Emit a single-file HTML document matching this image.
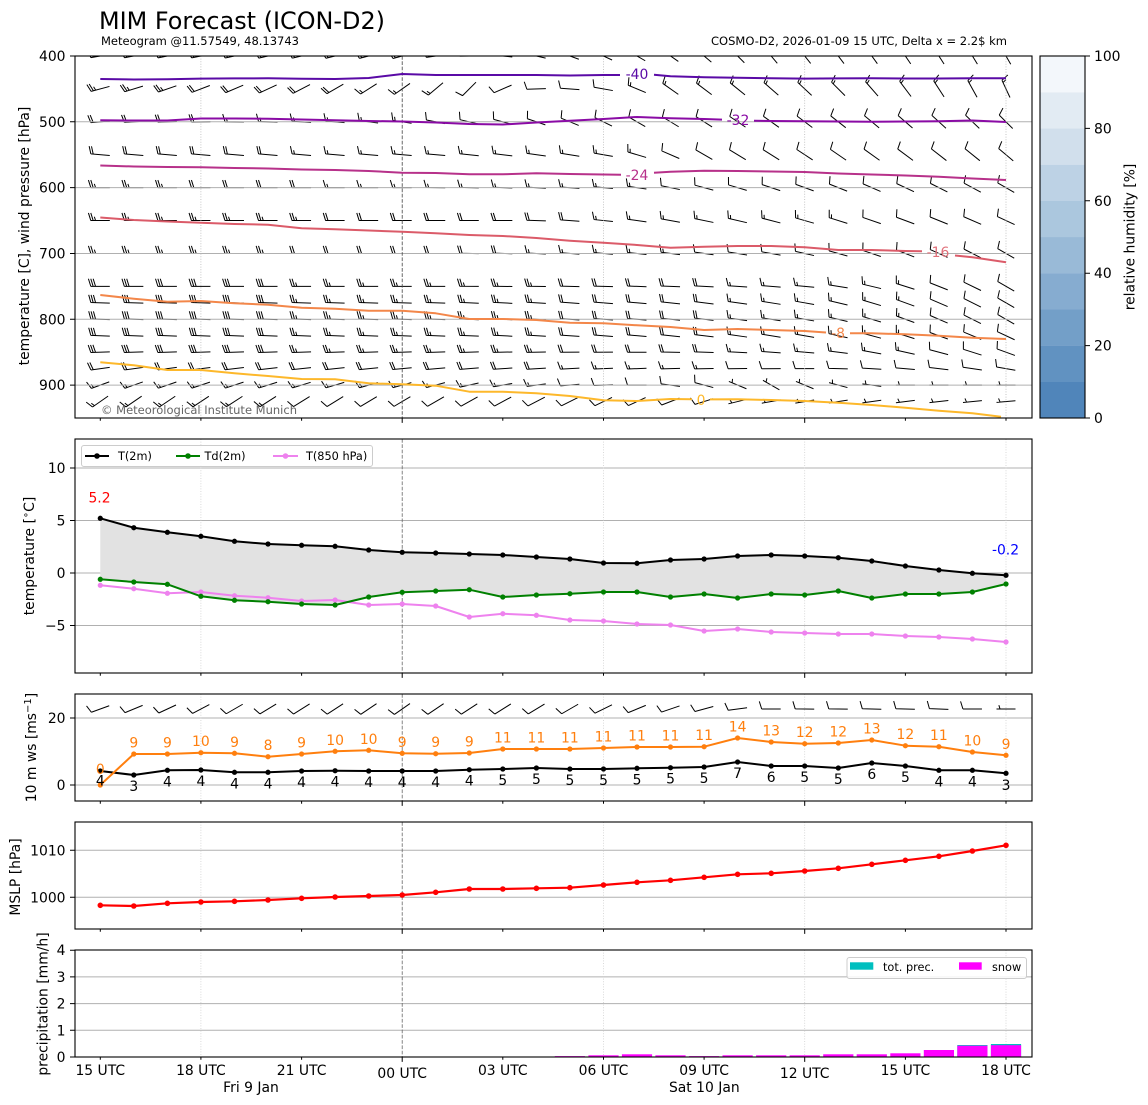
<!DOCTYPE html>
<html><head><meta charset="utf-8"><title>MIM Forecast (ICON-D2)</title>
<style>
html,body{margin:0;padding:0;background:#fff;width:1148px;height:1105px;overflow:hidden}
svg{display:block;font-family:"DejaVu Sans","Liberation Sans",sans-serif}
</style></head><body>
<svg id="fig" width="1148" height="1105" viewBox="0 0 1148 1105" xmlns="http://www.w3.org/2000/svg">
<defs>
<clipPath id="c1"><rect x="75" y="56" width="957" height="362"/></clipPath>
<clipPath id="c3"><rect x="75" y="694" width="957" height="107"/></clipPath>
<marker id="mk" viewBox="-4 -4 8 8" markerWidth="7" markerHeight="7" markerUnits="userSpaceOnUse"><circle r="3" fill="#000"/></marker>
<marker id="mg" viewBox="-4 -4 8 8" markerWidth="7" markerHeight="7" markerUnits="userSpaceOnUse"><circle r="3" fill="#008000"/></marker>
<marker id="mv" viewBox="-4 -4 8 8" markerWidth="7" markerHeight="7" markerUnits="userSpaceOnUse"><circle r="3" fill="#ee82ee"/></marker>
<marker id="mo" viewBox="-4 -4 8 8" markerWidth="7" markerHeight="7" markerUnits="userSpaceOnUse"><circle r="3" fill="#ff7f0e"/></marker>
<marker id="mr" viewBox="-4 -4 8 8" markerWidth="7" markerHeight="7" markerUnits="userSpaceOnUse"><circle r="3.2" fill="#ff0000"/></marker>
<path id="xt" d="M100.3,0v2.8M200.9,0v2.8M301.6,0v2.8M402.2,0v4.9M502.8,0v2.8M603.5,0v2.8M704.1,0v2.8M804.7,0v4.9M905.4,0v2.8M1006,0v2.8" stroke="#000" stroke-width="1"/>
</defs>
<rect x="0" y="0" width="1148" height="1105" fill="#fff"/>

<!-- Titles -->
<text x="99" y="29" font-size="23.8" textLength="286" lengthAdjust="spacingAndGlyphs">MIM Forecast (ICON-D2)</text>
<text x="101" y="45" font-size="11.5" textLength="198" lengthAdjust="spacingAndGlyphs">Meteogram @11.57549, 48.13743</text>
<text x="1007" y="45" font-size="11.5" text-anchor="end" textLength="296" lengthAdjust="spacingAndGlyphs">COSMO-D2, 2026-01-09 15 UTC, Delta x = 2.2$ km</text>

<!-- ================= PANEL 1 ================= -->
<g id="p1">
<path id="barbs1" d="" stroke="#000" stroke-width="1" fill="none" clip-path="url(#c1)"/>
<g stroke="#b0b0b0" stroke-width="1">
<line x1="75" x2="1032" y1="121.8" y2="121.8"/><line x1="75" x2="1032" y1="187.6" y2="187.6"/>
<line x1="75" x2="1032" y1="253.5" y2="253.5"/><line x1="75" x2="1032" y1="319.3" y2="319.3"/>
<line x1="75" x2="1032" y1="385.1" y2="385.1"/>
</g>
<g stroke="#b8b8b8" stroke-width="0.8" stroke-dasharray="1,1.6">
<line x1="200.9" x2="200.9" y1="56" y2="418"/><line x1="603.5" x2="603.5" y1="56" y2="418"/>
<line x1="804.7" x2="804.7" y1="56" y2="418"/><line x1="1006" x2="1006" y1="56" y2="418"/>
</g>
<line x1="402.2" x2="402.2" y1="56" y2="418" stroke="#444" stroke-width="0.8" stroke-dasharray="3.7,1.6"/>
<g fill="none" stroke-width="2" stroke-linejoin="round" clip-path="url(#c1)">
<polyline stroke="#5a0aa6" points="100.3,79 133.8,79.5 167.4,79.2 200.9,78.6 234.5,78.4 268,78.3 301.6,78.8 335.1,79 368.7,78 402.2,74 435.7,75 469.3,75 502.8,75 536.4,75 569.9,75.5 603.5,75 620,75"/>
<polyline stroke="#5a0aa6" points="654,74.8 670.5,76.3 704.1,77.3 737.6,77.8 771.2,78.2 804.7,78.6 838.3,78.4 871.8,78.2 905.4,78.5 938.9,78.5 972.4,78.2 1006,78.2"/>
<polyline stroke="#8a0ba5" points="100.3,120.3 133.8,120.5 167.4,120.5 200.9,118.5 234.5,118.5 268,118.7 301.6,119.5 335.1,120.3 368.7,121 402.2,121.5 435.7,122.5 469.3,124 502.8,124.5 536.4,122.5 569.9,120.8 603.5,119 637,117 670.5,118.3 704.1,119 722,119.6"/>
<polyline stroke="#8a0ba5" points="754,120.8 771.2,121 804.7,121.3 838.3,121.5 871.8,121.8 905.4,121.5 938.9,121.2 972.4,120.5 1006,122"/>
<polyline stroke="#b7318a" points="100.3,165.5 133.8,166.5 167.4,167 200.9,167.3 234.5,168 268,168.5 301.6,169.5 335.1,170 368.7,171 402.2,172.7 435.7,173 469.3,174.3 502.8,174.3 536.4,173.3 569.9,174 603.5,174.5 621,174.8"/>
<polyline stroke="#b7318a" points="654,172.8 670.5,171.8 704.1,170.7 737.6,171 771.2,171.5 804.7,172 838.3,173.5 871.8,174.5 905.4,175.5 938.9,176.7 972.4,178.5 1006,180"/>
<polyline stroke="#db5b69" points="100.3,217.5 133.8,220 167.4,221.5 200.9,222.7 234.5,224 268,224.7 301.6,228.3 335.1,229.3 368.7,230.5 402.2,231.7 435.7,233.3 469.3,235 502.8,236 536.4,238 569.9,240.7 603.5,242.7 637,245 670.5,247.7 704.1,246.7 737.6,246 771.2,246 804.7,247.3 838.3,250 871.8,250 905.4,251 922,251.3"/>
<polyline stroke="#db5b69" points="955,255.5 972.4,257.3 1006,262.3"/>
<polyline stroke="#f3874a" points="100.3,295 133.8,298.7 167.4,301.7 200.9,301 234.5,303.3 268,304.7 301.6,307.7 335.1,308.7 368.7,310.7 402.2,310.7 435.7,313.3 469.3,319 502.8,319 536.4,320 569.9,322.7 603.5,323.3 637,325.3 670.5,327 704.1,330 737.6,329 771.2,330 804.7,331 826,332.5"/>
<polyline stroke="#f3874a" points="850,333.2 871.8,333.3 905.4,334.3 938.9,335.7 972.4,337.7 1006,339"/>
<polyline stroke="#fdb82b" points="100.3,362.3 133.8,365.3 167.4,370 200.9,370 234.5,373.3 268,376 301.6,379 335.1,379.3 368.7,383.3 402.2,384.3 435.7,385.7 469.3,391.7 502.8,391.7 536.4,393.3 569.9,396 603.5,400.3 637,401 670.5,399 692,399.3"/>
<polyline stroke="#fdb82b" points="710,399.4 737.6,399.3 771.2,400 804.7,401 838.3,402.7 871.8,405 905.4,407.7 938.9,410.7 972.4,413.3 1001,416.7"/>
</g>
<g font-size="13.9" text-anchor="middle">
<text x="637" y="79" fill="#5a0aa6">-40</text>
<text x="738" y="125" fill="#8a0ba5">-32</text>
<text x="637" y="180" fill="#b7318a">-24</text>
<text x="938" y="257" fill="#e0707a">-16</text>
<text x="838" y="338" fill="#f3874a">-8</text>
<text x="701" y="405" fill="#fdb82b">0</text>
</g>
<text x="101" y="414" font-size="11.5" fill="#666" textLength="196" lengthAdjust="spacingAndGlyphs">© Meteorological Institute Munich</text>
<rect x="75" y="56" width="957" height="362" fill="none" stroke="#000" stroke-width="1.1"/>
<path d="M70,56h5M70,121.8h5M70,187.6h5M70,253.5h5M70,319.3h5M70,385.1h5" stroke="#000"/>
<g font-size="13.9" text-anchor="end">
<text x="65.5" y="61">400</text><text x="65.5" y="126.8">500</text><text x="65.5" y="192.6">600</text>
<text x="65.5" y="258.5">700</text><text x="65.5" y="324.3">800</text><text x="65.5" y="390.1">900</text>
</g>
<use href="#xt" transform="translate(0,418)"/>
<text transform="translate(29,236) rotate(-90)" font-size="13.9" text-anchor="middle">temperature [C], wind pressure [hPa]</text>
</g>

<!-- colorbar -->
<g>
<rect x="1040" y="381.8" width="45" height="36.2" fill="#5085ba"/>
<rect x="1040" y="345.6" width="45" height="36.4" fill="#6192c1"/>
<rect x="1040" y="309.4" width="45" height="36.4" fill="#739fc8"/>
<rect x="1040" y="273.2" width="45" height="36.4" fill="#86acd0"/>
<rect x="1040" y="237" width="45" height="36.4" fill="#99bad7"/>
<rect x="1040" y="200.8" width="45" height="36.4" fill="#abc7de"/>
<rect x="1040" y="164.6" width="45" height="36.4" fill="#bdd2e5"/>
<rect x="1040" y="128.4" width="45" height="36.4" fill="#d1dfec"/>
<rect x="1040" y="92.2" width="45" height="36.4" fill="#e2ebf3"/>
<rect x="1040" y="56" width="45" height="36.4" fill="#f3f7fb"/>
<rect x="1040" y="56" width="45" height="362" fill="none" stroke="#000" stroke-width="1.1"/>
<path d="M1085,56h5M1085,128.4h5M1085,200.8h5M1085,273.2h5M1085,345.6h5M1085,418h5" stroke="#000"/>
<g font-size="13.9">
<text x="1094" y="61">100</text><text x="1094" y="133.4">80</text><text x="1094" y="205.8">60</text>
<text x="1094" y="278.2">40</text><text x="1094" y="350.6">20</text><text x="1094" y="423">0</text>
</g>
<text transform="translate(1134.5,237) rotate(-90)" font-size="13.9" text-anchor="middle">relative humidity [%]</text>
</g>

<!-- ================= PANEL 2 ================= -->
<g id="p2">
<g stroke="#b0b0b0" stroke-width="1">
<line x1="75" x2="1032" y1="468" y2="468"/><line x1="75" x2="1032" y1="520.5" y2="520.5"/>
<line x1="75" x2="1032" y1="573" y2="573"/><line x1="75" x2="1032" y1="625.5" y2="625.5"/>
</g>
<g stroke="#d0d0d0" stroke-width="0.8" stroke-dasharray="1,1.6">
<line x1="200.9" x2="200.9" y1="439" y2="673"/><line x1="603.5" x2="603.5" y1="439" y2="673"/>
<line x1="804.7" x2="804.7" y1="439" y2="673"/><line x1="1006" x2="1006" y1="439" y2="673"/>
</g>
<line x1="402.2" x2="402.2" y1="439" y2="673" stroke="#666" stroke-width="0.8" stroke-dasharray="3.7,1.6"/>
<polygon fill="#e2e2e2" points="100.3,518.3 133.8,527.7 167.4,532.3 200.9,536.3 234.5,541.3 268,544 301.6,545.3 335.1,546.3 368.7,550 402.2,552.3 435.7,553 469.3,554 502.8,555 536.4,557 569.9,559 603.5,563 637,563.3 670.5,560 704.1,559 737.6,556 771.2,555 804.7,556 838.3,557.7 871.8,561 905.4,566 938.9,570 972.4,573.3 1006,575.3 1006,584 972.4,592 938.9,594 905.4,594 871.8,598 838.3,591 804.7,595 771.2,594 737.6,598 704.1,594 670.5,597 637,592 603.5,592 569.9,593.7 536.4,595 502.8,597 469.3,589.7 435.7,591 402.2,592.3 368.7,597 335.1,605 301.6,604 268,601.7 234.5,600.3 200.9,596.3 167.4,584.3 133.8,582 100.3,579.3"/>
<g fill="none" stroke-width="2" stroke-linejoin="round">
<polyline stroke="#ee82ee" marker-start="url(#mv)" marker-mid="url(#mv)" marker-end="url(#mv)" points="100.3,585.3 133.8,588.7 167.4,593.3 200.9,592 234.5,595.7 268,597.7 301.6,601 335.1,600 368.7,605 402.2,604 435.7,606 469.3,617 502.8,613.7 536.4,615.3 569.9,620 603.5,621 637,624 670.5,625 704.1,631 737.6,629 771.2,632 804.7,633 838.3,634 871.8,634 905.4,636 938.9,637 972.4,639 1006,642"/>
<polyline stroke="#008000" marker-start="url(#mg)" marker-mid="url(#mg)" marker-end="url(#mg)" points="100.3,579.3 133.8,582 167.4,584.3 200.9,596.3 234.5,600.3 268,601.7 301.6,604 335.1,605 368.7,597 402.2,592.3 435.7,591 469.3,589.7 502.8,597 536.4,595 569.9,593.7 603.5,592 637,592 670.5,597 704.1,594 737.6,598 771.2,594 804.7,595 838.3,591 871.8,598 905.4,594 938.9,594 972.4,592 1006,584"/>
<polyline stroke="#000" marker-start="url(#mk)" marker-mid="url(#mk)" marker-end="url(#mk)" points="100.3,518.3 133.8,527.7 167.4,532.3 200.9,536.3 234.5,541.3 268,544 301.6,545.3 335.1,546.3 368.7,550 402.2,552.3 435.7,553 469.3,554 502.8,555 536.4,557 569.9,559 603.5,563 637,563.3 670.5,560 704.1,559 737.6,556 771.2,555 804.7,556 838.3,557.7 871.8,561 905.4,566 938.9,570 972.4,573.3 1006,575.3"/>
</g>
<text x="99.5" y="502.5" font-size="13.9" fill="#ff0000" text-anchor="middle">5.2</text>
<text x="1005.5" y="554.3" font-size="13.9" fill="#0000ff" text-anchor="middle">-0.2</text>
<!-- legend -->
<rect x="81.5" y="445.5" width="291" height="21" rx="2.5" fill="#fff" fill-opacity="0.85" stroke="#cccccc" stroke-width="1"/>
<g stroke-width="2">
<line x1="85" x2="109" y1="456" y2="456" stroke="#000"/><circle cx="97" cy="456" r="2.8" fill="#000"/>
<line x1="176" x2="200" y1="456" y2="456" stroke="#008000"/><circle cx="188" cy="456" r="2.8" fill="#008000"/>
<line x1="273" x2="298" y1="456" y2="456" stroke="#ee82ee"/><circle cx="285.5" cy="456" r="2.8" fill="#ee82ee"/>
</g>
<g font-size="11.3">
<text x="118" y="460">T(2m)</text><text x="204.5" y="460">Td(2m)</text><text x="306" y="460">T(850 hPa)</text>
</g>
<rect x="75" y="439" width="957" height="234" fill="none" stroke="#000" stroke-width="1.1"/>
<path d="M70,468h5M70,520.5h5M70,573h5M70,625.5h5" stroke="#000"/>
<g font-size="13.9" text-anchor="end">
<text x="65.5" y="473">10</text><text x="65.5" y="525.5">5</text><text x="65.5" y="578">0</text><text x="65.5" y="630.5">−5</text>
</g>
<use href="#xt" transform="translate(0,673)"/>
<text transform="translate(34,556) rotate(-90)" font-size="13.9" text-anchor="middle">temperature [<tspan font-size="10" baseline-shift="super">∘</tspan>C]</text>
</g>

<!-- ================= PANEL 3 ================= -->
<g id="p3">
<g stroke="#b0b0b0" stroke-width="1">
<line x1="75" x2="1032" y1="718" y2="718"/><line x1="75" x2="1032" y1="785" y2="785"/>
</g>
<g stroke="#d0d0d0" stroke-width="0.8" stroke-dasharray="1,1.6">
<line x1="200.9" x2="200.9" y1="694" y2="801"/><line x1="603.5" x2="603.5" y1="694" y2="801"/>
<line x1="804.7" x2="804.7" y1="694" y2="801"/><line x1="1006" x2="1006" y1="694" y2="801"/>
</g>
<line x1="402.2" x2="402.2" y1="694" y2="801" stroke="#666" stroke-width="0.8" stroke-dasharray="3.7,1.6"/>
<path id="barbs3" d="" stroke="#000" stroke-width="1" fill="none" clip-path="url(#c3)"/>
<g fill="none" stroke-width="2" stroke-linejoin="round">
<polyline stroke="#000" marker-start="url(#mk)" marker-mid="url(#mk)" marker-end="url(#mk)" points="100.3,771 133.8,775 167.4,770.3 200.9,770 234.5,772.3 268,772.3 301.6,771 335.1,770.7 368.7,771 402.2,771 435.7,771 469.3,769.7 502.8,769 536.4,768 569.9,769 603.5,769 637,768.3 670.5,767.7 704.1,767 737.6,762 771.2,766 804.7,766 838.3,768 871.8,763 905.4,766 938.9,770.3 972.4,770.3 1006,773.3"/>
<polyline stroke="#ff7f0e" marker-start="url(#mo)" marker-mid="url(#mo)" marker-end="url(#mo)" points="100.3,785 133.8,754 167.4,754 200.9,752.7 234.5,753.3 268,756.7 301.6,754 335.1,751.3 368.7,750.3 402.2,753.3 435.7,753.7 469.3,753 502.8,749 536.4,749 569.9,749 603.5,748 637,747 670.5,747 704.1,746.7 737.6,738 771.2,742 804.7,743.7 838.3,743 871.8,740 905.4,745.7 938.9,746.7 972.4,752 1006,755.3"/>
</g>
<g font-size="13.9" text-anchor="middle" fill="#ff7f0e">
<text x="100.3" y="774">0</text>
<text x="133.8" y="747.5">9</text><text x="167.4" y="747.5">9</text><text x="200.9" y="746.2">10</text>
<text x="234.5" y="746.8">9</text><text x="268" y="750.2">8</text><text x="301.6" y="747.5">9</text>
<text x="335.1" y="744.8">10</text><text x="368.7" y="743.8">10</text><text x="402.2" y="746.8">9</text>
<text x="435.7" y="747.2">9</text><text x="469.3" y="746.5">9</text><text x="502.8" y="742.5">11</text>
<text x="536.4" y="742.5">11</text><text x="569.9" y="742.5">11</text><text x="603.5" y="741.5">11</text>
<text x="637" y="740.5">11</text><text x="670.5" y="740.5">11</text><text x="704.1" y="740.2">11</text>
<text x="737.6" y="731.5">14</text><text x="771.2" y="735.5">13</text><text x="804.7" y="737.2">12</text>
<text x="838.3" y="736.5">12</text><text x="871.8" y="733.5">13</text><text x="905.4" y="739.2">12</text>
<text x="938.9" y="740.2">11</text><text x="972.4" y="745.5">10</text><text x="1006" y="748.8">9</text>
</g>
<g font-size="13.9" text-anchor="middle" fill="#000">
<text x="100.3" y="785.5">4</text><text x="133.8" y="791">3</text><text x="167.4" y="786.3">4</text>
<text x="200.9" y="786">4</text><text x="234.5" y="788.3">4</text><text x="268" y="788.3">4</text>
<text x="301.6" y="787">4</text><text x="335.1" y="786.7">4</text><text x="368.7" y="787">4</text>
<text x="402.2" y="787">4</text><text x="435.7" y="787">4</text><text x="469.3" y="785.7">4</text>
<text x="502.8" y="785">5</text><text x="536.4" y="784">5</text><text x="569.9" y="785">5</text>
<text x="603.5" y="785">5</text><text x="637" y="784.3">5</text><text x="670.5" y="783.7">5</text>
<text x="704.1" y="783">5</text><text x="737.6" y="778">7</text><text x="771.2" y="782">6</text>
<text x="804.7" y="782">5</text><text x="838.3" y="784">5</text><text x="871.8" y="779">6</text>
<text x="905.4" y="782">5</text><text x="938.9" y="786.3">4</text><text x="972.4" y="786.3">4</text>
<text x="1006" y="790">3</text>
</g>
<rect x="75" y="694" width="957" height="107" fill="none" stroke="#000" stroke-width="1.1"/>
<path d="M70,718h5M70,785h5" stroke="#000"/>
<g font-size="13.9" text-anchor="end"><text x="65.5" y="723">20</text><text x="65.5" y="790">0</text></g>
<use href="#xt" transform="translate(0,801)"/>
<text transform="translate(36,747.5) rotate(-90)" font-size="13.9" text-anchor="middle">10 m ws [ms<tspan font-size="10" baseline-shift="super">−1</tspan>]</text>
</g>

<!-- ================= PANEL 4 ================= -->
<g id="p4">
<g stroke="#b0b0b0" stroke-width="1">
<line x1="75" x2="1032" y1="850.3" y2="850.3"/><line x1="75" x2="1032" y1="897.3" y2="897.3"/>
</g>
<g stroke="#d0d0d0" stroke-width="0.8" stroke-dasharray="1,1.6">
<line x1="200.9" x2="200.9" y1="822" y2="929"/><line x1="603.5" x2="603.5" y1="822" y2="929"/>
<line x1="804.7" x2="804.7" y1="822" y2="929"/><line x1="1006" x2="1006" y1="822" y2="929"/>
</g>
<line x1="402.2" x2="402.2" y1="822" y2="929" stroke="#666" stroke-width="0.8" stroke-dasharray="3.7,1.6"/>
<polyline fill="none" stroke="#ff0000" stroke-width="2.2" stroke-linejoin="round" marker-start="url(#mr)" marker-mid="url(#mr)" marker-end="url(#mr)" points="100.3,905.3 133.8,906 167.4,903.3 200.9,902 234.5,901.3 268,900 301.6,898.3 335.1,897 368.7,896 402.2,895 435.7,892.3 469.3,889 502.8,889 536.4,888.3 569.9,887.7 603.5,885 637,882.3 670.5,880.3 704.1,877.3 737.6,874.3 771.2,873.3 804.7,871 838.3,868.3 871.8,864.3 905.4,860.3 938.9,856.3 972.4,851 1006,845.3"/>
<rect x="75" y="822" width="957" height="107" fill="none" stroke="#000" stroke-width="1.1"/>
<path d="M70,850.3h5M70,897.3h5" stroke="#000"/>
<g font-size="13.9" text-anchor="end"><text x="65.5" y="855.3">1010</text><text x="65.5" y="902.3">1000</text></g>
<use href="#xt" transform="translate(0,929)"/>
<text transform="translate(20,877) rotate(-90)" font-size="13.9" text-anchor="middle">MSLP [hPa]</text>
</g>

<!-- ================= PANEL 5 ================= -->
<g id="p5">
<g stroke="#b0b0b0" stroke-width="1">
<line x1="75" x2="1032" y1="976.9" y2="976.9"/><line x1="75" x2="1032" y1="1003.6" y2="1003.6"/>
<line x1="75" x2="1032" y1="1030.3" y2="1030.3"/>
</g>
<g stroke="#d0d0d0" stroke-width="0.8" stroke-dasharray="1,1.6">
<line x1="200.9" x2="200.9" y1="950" y2="1057"/><line x1="603.5" x2="603.5" y1="950" y2="1057"/>
<line x1="804.7" x2="804.7" y1="950" y2="1057"/><line x1="1006" x2="1006" y1="950" y2="1057"/>
</g>
<line x1="402.2" x2="402.2" y1="950" y2="1057" stroke="#666" stroke-width="0.8" stroke-dasharray="3.7,1.6"/>
<g fill="#00bfbf">
<rect x="957.3" y="1045" width="30.2" height="12"/>
<rect x="990.9" y="1044" width="30.2" height="13"/>
</g>
<g fill="#ff00ff">
<rect x="554.8" y="1056.1" width="30.2" height="0.9"/>
<rect x="588.4" y="1055.3" width="30.2" height="1.7"/>
<rect x="621.9" y="1054.3" width="30.2" height="2.7"/>
<rect x="655.4" y="1055.3" width="30.2" height="1.7"/>
<rect x="689.0" y="1056.1" width="30.2" height="0.9"/>
<rect x="722.5" y="1055.3" width="30.2" height="1.7"/>
<rect x="756.1" y="1055.3" width="30.2" height="1.7"/>
<rect x="789.6" y="1055.3" width="30.2" height="1.7"/>
<rect x="823.2" y="1054.3" width="30.2" height="2.7"/>
<rect x="856.7" y="1054.3" width="30.2" height="2.7"/>
<rect x="890.3" y="1053.3" width="30.2" height="3.7"/>
<rect x="923.8" y="1050" width="30.2" height="7"/>
<rect x="957.3" y="1045.7" width="30.2" height="11.3"/>
<rect x="990.9" y="1045.2" width="30.2" height="11.8"/>
</g>
<!-- legend -->
<rect x="847" y="957.5" width="179.5" height="21" rx="2.5" fill="#fff" fill-opacity="0.85" stroke="#cccccc" stroke-width="1"/>
<rect x="850" y="962.3" width="23.3" height="7.4" fill="#00bfbf"/>
<rect x="959" y="962.3" width="22.7" height="7.4" fill="#ff00ff"/>
<g font-size="11.3"><text x="883" y="971">tot. prec.</text><text x="992" y="971">snow</text></g>
<rect x="75" y="950" width="957" height="107" fill="none" stroke="#000" stroke-width="1.1"/>
<path d="M70,950.2h5M70,976.9h5M70,1003.6h5M70,1030.3h5M70,1057h5" stroke="#000"/>
<g font-size="13.9" text-anchor="end">
<text x="65.5" y="955.2">4</text><text x="65.5" y="981.9">3</text><text x="65.5" y="1008.6">2</text>
<text x="65.5" y="1035.3">1</text><text x="65.5" y="1062">0</text>
</g>
<use href="#xt" transform="translate(0,1057)"/>
<text transform="translate(47.5,1004) rotate(-90)" font-size="13.9" text-anchor="middle">precipitation [mm/h]</text>
<g font-size="13.9" text-anchor="middle">
<text x="100.3" y="1075">15 UTC</text><text x="200.9" y="1075">18 UTC</text><text x="301.6" y="1075">21 UTC</text>
<text x="402.2" y="1078">00 UTC</text><text x="502.8" y="1075">03 UTC</text><text x="603.5" y="1075">06 UTC</text>
<text x="704.1" y="1075">09 UTC</text><text x="804.7" y="1078">12 UTC</text><text x="905.4" y="1075">15 UTC</text>
<text x="1006" y="1075">18 UTC</text>
<text x="251" y="1092">Fri 9 Jan</text><text x="704.3" y="1092">Sat 10 Jan</text>
</g>
</g>
</svg>
<script>
(function(){
var X=function(i){return 100.3+33.544*i;};
function itp(kp,i){
  for(var k=0;k<kp.length-1;k++){
    if(i<=kp[k+1][0]){var t=(i-kp[k][0])/(kp[k+1][0]-kp[k][0]);
      return [kp[k][1]+t*(kp[k+1][1]-kp[k][1]),kp[k][2]+t*(kp[k+1][2]-kp[k][2])];}
  }
  var l=kp[kp.length-1];return [l[1],l[2]];
}
function f(v){return v.toFixed(2);}
function barb(x,y,dir,spd,L){
  var r=dir*Math.PI/180,dx=Math.sin(r),dy=-Math.cos(r),fx=-dy,fy=dx;
  var ex=x+dx*L/2,ey=y+dy*L/2,tx=x-dx*L/2,ty=y-dy*L/2;
  var s=Math.round(spd/5)*5;var nb=Math.floor(s/10);s-=nb*10;var nh=s>=5?1:0;
  var H=0.4*L,W=0.25*L,S=0.125*L;
  var p='M'+f(tx)+','+f(ty)+'L'+f(ex)+','+f(ey);
  var off=0;
  for(var k=0;k<nb;k++){var ax=ex-dx*off,ay=ey-dy*off;
    p+='M'+f(ax)+','+f(ay)+'l'+f(fx*H+dx*W/2)+','+f(fy*H+dy*W/2);off+=S;}
  if(nh){if(nb==0)off+=1.5*S;var bx=ex-dx*off,by=ey-dy*off;
    p+='M'+f(bx)+','+f(by)+'l'+f(fx*H/2+dx*W/4)+','+f(fy*H/2+dy*W/4);}
  return p;
}
var rows=[
 [400,[[0,260,25],[9,255,20],[14,290,15],[20,320,15],[27,330,15]]],
 [450,[[0,255,25],[5,245,20],[9,235,15],[11,225,10],[13,268,10],[15,280,10],[17,305,15],[22,315,15],[27,335,15]]],
 [500,[[0,265,20],[7,275,15],[12,285,10],[16,300,10],[27,315,10]]],
 [550,[[0,275,20],[10,275,15],[15,280,15],[18,300,10],[27,310,10]]],
 [600,[[0,270,25],[9,270,15],[15,275,15],[18,285,10],[27,300,10]]],
 [650,[[0,270,25],[12,270,20],[17,280,15],[27,295,10]]],
 [700,[[0,270,25],[10,270,20],[15,275,15],[20,280,10],[27,300,10]]],
 [750,[[0,270,30],[10,270,25],[16,272,20],[21,275,15],[27,300,10]]],
 [775,[[0,272,30],[10,272,25],[16,275,20],[21,280,15],[27,300,10]]],
 [800,[[0,272,30],[10,272,25],[16,275,20],[21,280,15],[27,300,10]]],
 [825,[[0,272,30],[10,272,25],[16,275,20],[21,280,15],[27,295,10]]],
 [850,[[0,268,30],[10,268,25],[16,270,20],[21,275,15],[27,290,10]]],
 [875,[[0,262,20],[10,265,20],[16,268,15],[21,270,10],[27,280,10]]],
 [900,[[0,250,15],[10,255,15],[16,270,10],[20,300,5],[24,270,5],[27,270,5]]],
 [925,[[0,235,15],[10,240,10],[16,245,10],[20,260,5],[27,265,5]]]
];
var d1='';
for(var a=0;a<rows.length;a++){
  var y=56+(rows[a][0]-400)*0.6582;
  for(var i=0;i<28;i++){var w=itp(rows[a][1],i);d1+=barb(X(i),y,w[0],w[1],19);}
}
document.getElementById('barbs1').setAttribute('d',d1);
var k3=[[0,250,10],[4,240,10],[9,235,10],[14,240,10],[18,255,10],[20,270,10],[25,272,10],[26,270,10],[27,270,5]];
var d3='';
for(var j=0;j<28;j++){var w3=itp(k3,j);d3+=barb(X(j),709,w3[0],w3[1],19);}
document.getElementById('barbs3').setAttribute('d',d3);
})();
</script>
</body></html>
